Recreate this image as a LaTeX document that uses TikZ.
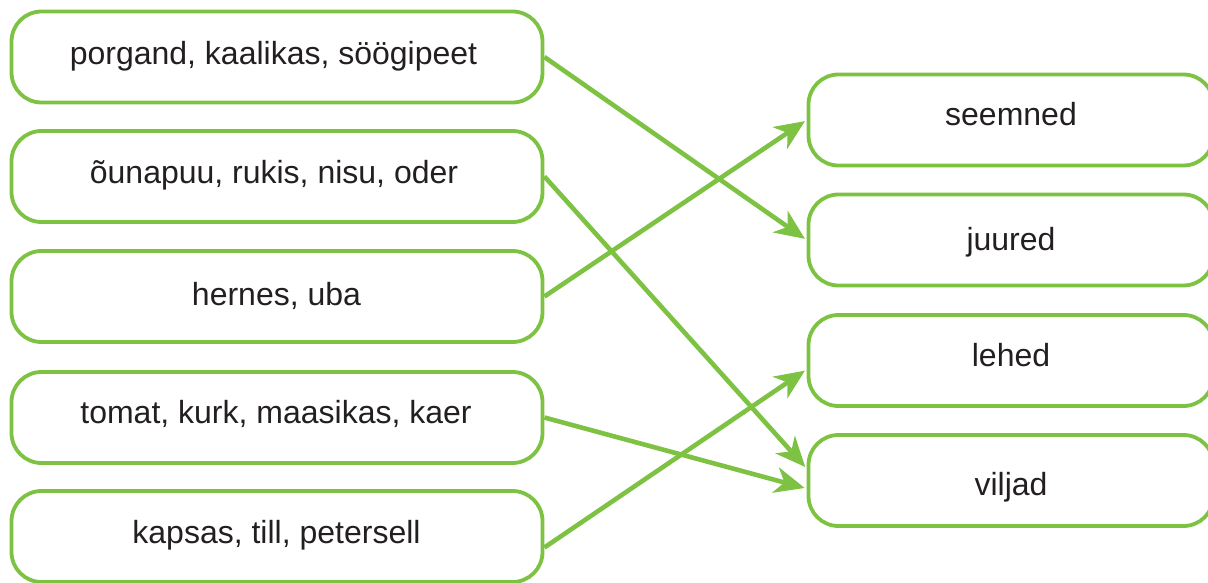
\documentclass[tikz,border=0pt]{standalone}
\usepackage{fontspec}
\setmainfont{Liberation Sans}
\usetikzlibrary{arrows.meta}
\definecolor{lgreen}{RGB}{125,194,66}
\definecolor{txt}{RGB}{35,31,32}
\begin{document}
\begin{tikzpicture}[x=1pt,y=-1pt,
  box/.style={draw=lgreen, line width=3.8pt, rounded corners=30pt, minimum height=91pt, inner sep=0pt},
  lbox/.style={box, minimum width=531pt},
  rbox/.style={box, minimum width=405pt},
  lbl/.style={anchor=base, text=txt, font=\fontsize{32}{38}\selectfont, inner sep=0pt},
  conn/.style={draw=lgreen, line width=4.6pt, shorten >=2pt, -{Stealth[length=30pt, width=26pt, inset=9pt]}}]
\useasboundingbox (0,0) rectangle (1208,583);
\clip (0,0) rectangle (1208,583);
% left boxes
\node[lbox] (L1) at (277,57) {};
\node[lbox] (L2) at (277,176.5) {};
\node[lbox] (L3) at (277,296.5) {};
\node[lbox] (L4) at (277,417.5) {};
\node[lbox] (L5) at (277,536.5) {};
% right boxes
\node[rbox] (R1) at (1011,120) {};
\node[rbox] (R2) at (1011,240) {};
\node[rbox] (R3) at (1011,360.5) {};
\node[rbox] (R4) at (1011,480.5) {};
% labels
\node[lbl] (t1) at (273.5,65) {porgand, kaalikas, söögipeet};
\node[lbl] (t2) at (274,184) {õunapuu, rukis, nisu, oder};
\node[lbl] (t3) at (276.5,305) {hernes, uba};
\node[lbl] (t4) at (276,423) {tomat, kurk, maasikas, kaer};
\node[lbl] (t5) at (276.5,543) {kapsas, till, petersell};
\node[lbl] (u1) at (1011,126) {seemned};
\node[lbl] (u2) at (1011,250) {juured};
\node[lbl] (u3) at (1011,366) {lehed};
\node[lbl] (u4) at (1011,495) {viljad};
% connectors
\draw[conn] (L1.east) -- (R2.west);
\draw[conn] (L2.east) -- ([yshift=12pt]R4.west);
\draw[conn] (L3.east) -- (R1.west);
\draw[conn] (L4.east) -- ([yshift=-8pt]R4.west);
\draw[conn] ([yshift=-11pt]L5.east) -- ([yshift=-9pt]R3.west);
\end{tikzpicture}
\end{document}
